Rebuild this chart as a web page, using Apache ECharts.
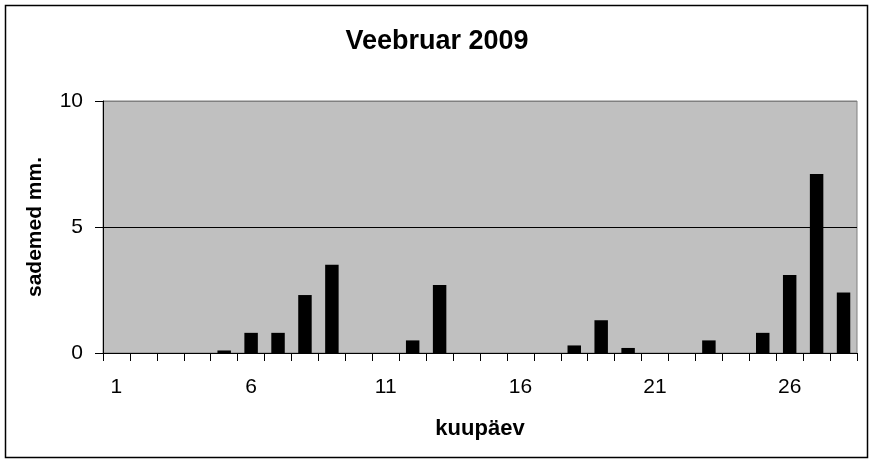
<!DOCTYPE html>
<html>
<head>
<meta charset="utf-8">
<script src="https://cdn.jsdelivr.net/npm/echarts@6/dist/echarts.min.js"></script>
<style>
html,body{margin:0;padding:0;background:#fff;}
#c{width:874px;height:464px;}
</style>
</head>
<body>
<div id="c"></div>
<script>
const titleText = 'Veebruar 2009';
const xName = 'kuupäev';
const yName = 'sademed mm.';
const days = ['1','2','3','4','5','6','7','8','9','10','11','12','13','14','15','16','17','18','19','20','21','22','23','24','25','26','27','28'];
const rain = [0,0,0,0,0.1,0.8,0.8,2.3,3.5,0,0,0.5,2.7,0,0,0,0,0.3,1.3,0.2,0,0,0.5,0,0.8,3.1,7.1,2.4];
const yTicks = { min: 0, max: 10, interval: 5 };

const font = "'Liberation Sans', Arial, sans-serif";
const chart = echarts.init(document.getElementById('c'), null, {renderer:'canvas'});
chart.setOption({
  animation: false,
  backgroundColor: '#ffffff',
  graphic: [{
    type: 'rect',
    shape: { x: 5.5, y: 5.5, width: 862, height: 452 },
    style: { fill: 'none', stroke: '#000', lineWidth: 1.5 },
    z: 100
  }],
  title: {
    text: titleText,
    left: 'center',
    top: 23,
    textStyle: { fontFamily: font, fontSize: 27, fontWeight: 'bold', color: '#000' }
  },
  grid: {
    left: 103, right: 17, top: 101, bottom: 111,
    show: true, backgroundColor: '#c0c0c0', borderColor: '#808080', borderWidth: 1
  },
  xAxis: {
    type: 'category',
    data: days,
    boundaryGap: true,
    name: xName,
    nameLocation: 'middle',
    nameGap: 65,
    nameTextStyle: { fontFamily: font, fontSize: 22, fontWeight: 'bold', color: '#000' },
    axisLine: { show: true, lineStyle: { color: '#000', width: 1 } },
    axisTick: { show: true, interval: 0, alignWithLabel: false, length: 8, lineStyle: { color: '#000' } },
    axisLabel: { interval: 4, margin: 24, fontFamily: font, fontSize: 21, color: '#000' },
    splitLine: { show: false }
  },
  yAxis: {
    type: 'value',
    min: yTicks.min, max: yTicks.max, interval: yTicks.interval,
    name: yName,
    nameLocation: 'middle',
    nameRotate: 90,
    nameGap: 57,
    nameTextStyle: { fontFamily: font, fontSize: 21, fontWeight: 'bold', color: '#000' },
    axisLine: { show: true, lineStyle: { color: '#000', width: 1 } },
    axisTick: { show: true, length: 8, lineStyle: { color: '#000' } },
    axisLabel: { margin: 20, fontFamily: font, fontSize: 21, color: '#000' },
    splitLine: { show: true, lineStyle: { color: ['#808080', '#000', '#808080'], width: 1 } }
  },
  series: [{
    type: 'bar',
    data: rain,
    barWidth: '50%',
    itemStyle: { color: '#000' }
  }]
});
</script>
</body>
</html>
